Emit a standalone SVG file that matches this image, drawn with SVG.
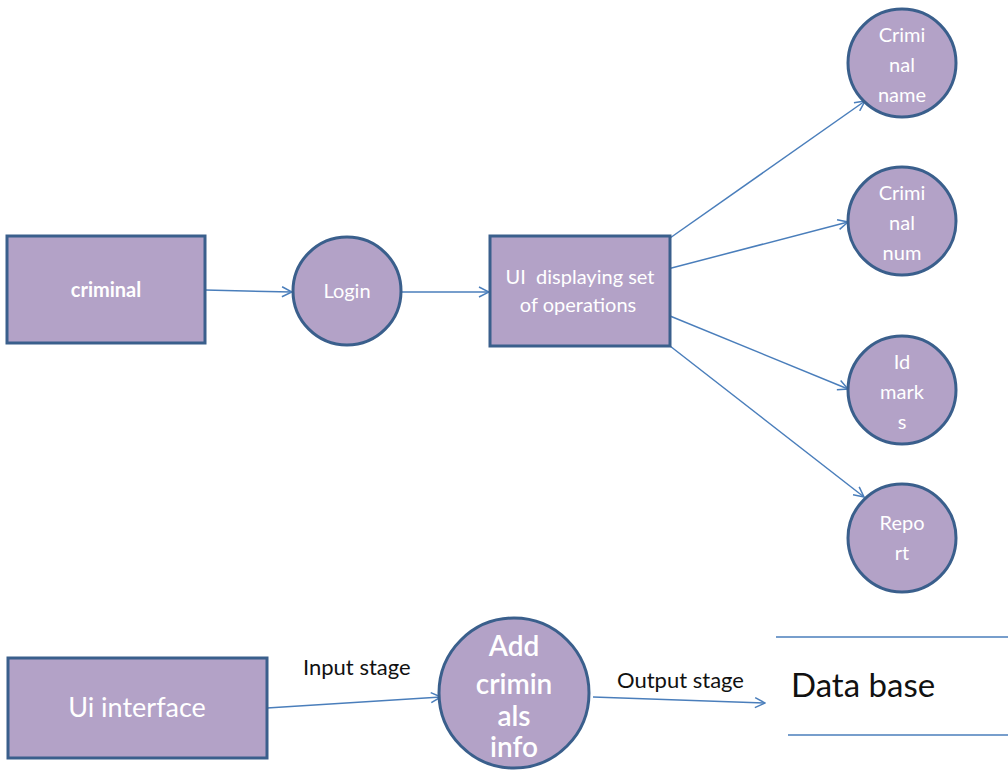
<svg xmlns="http://www.w3.org/2000/svg" width="1008" height="770" viewBox="0 0 1008 770">
<style>
.n{fill:#B3A2C7;stroke:#3A5F8C;stroke-width:3}
.t{font-family:Lato,"Liberation Sans",sans-serif;fill:#fff;text-anchor:middle;font-size:20px}
.big{font-size:27px}
.add{font-size:28px;font-weight:600}
.c{stroke:#4A7EBB;stroke-width:1.5;fill:none;marker-end:url(#a)}
.l{font-family:Lato,"Liberation Sans",sans-serif;fill:#111;font-size:22px}
.db{stroke:#4A7EBB;stroke-width:1.5}
</style>
<defs>
<marker id="a" viewBox="0 0 12 12" refX="11" refY="6" markerWidth="12" markerHeight="12" markerUnits="userSpaceOnUse" orient="auto">
<path d="M1,1 L11,6 L1,11" fill="none" stroke="#4A7EBB" stroke-width="1.5"/>
</marker>
</defs>
<rect width="1008" height="770" fill="#fff"/>
<g id="connectors">
<line class="c" x1="205" y1="290" x2="292" y2="292"/>
<line class="c" x1="402" y1="292" x2="489" y2="292"/>
<line class="c" x1="670" y1="238" x2="865" y2="101"/>
<line class="c" x1="660" y1="271" x2="848" y2="222"/>
<line class="c" x1="670" y1="316" x2="848" y2="389"/>
<line class="c" x1="670" y1="346" x2="864" y2="497"/>
<line class="c" x1="267" y1="708" x2="441" y2="697"/>
<line class="c" x1="593" y1="697" x2="765" y2="703"/>
</g>
<g id="criminal"><rect class="n" x="7" y="236" width="198" height="107"/><text class="t" x="106" y="297" font-weight="bold">criminal</text></g>
<g id="login"><circle class="n" cx="347" cy="291" r="54"/><text class="t" x="347" y="298">Login</text></g>
<g id="ui"><rect class="n" x="490" y="236" width="180" height="110"/><text class="t" x="580" y="284">UI&#160; displaying set</text><text class="t" x="578" y="312">of operations</text></g>
<g id="cname"><circle class="n" cx="902" cy="63" r="54"/><text class="t" x="902" y="42">Crimi</text><text class="t" x="902" y="72">nal</text><text class="t" x="902" y="102">name</text></g>
<g id="cnum"><circle class="n" cx="902" cy="221" r="54"/><text class="t" x="902" y="200">Crimi</text><text class="t" x="902" y="230">nal</text><text class="t" x="902" y="260">num</text></g>
<g id="idmarks"><circle class="n" cx="902" cy="390" r="54"/><text class="t" x="902" y="369">Id</text><text class="t" x="902" y="399">mark</text><text class="t" x="902" y="429">s</text></g>
<g id="report"><circle class="n" cx="902" cy="538" r="54"/><text class="t" x="902" y="530">Repo</text><text class="t" x="902" y="560">rt</text></g>
<g id="uiinterface"><rect class="n" x="8" y="658" width="259" height="100"/><text class="t big" x="137" y="717">Ui interface</text></g>
<g id="addinfo"><circle class="n" cx="514" cy="693" r="75"/><text class="t add" x="514" y="656">Add</text><text class="t add" x="514" y="694">crimin</text><text class="t add" x="514" y="726">als</text><text class="t add" x="514" y="757">info</text></g>
<text class="l" x="303" y="675">Input stage</text>
<text class="l" x="617" y="688">Output stage</text>
<g id="database">
<line class="db" x1="776" y1="637" x2="1008" y2="637"/>
<line class="db" x1="788" y1="735" x2="1008" y2="735"/>
<text x="791" y="697" font-family="Lato,'Liberation Sans',sans-serif" font-size="33" fill="#111">Data base</text>
</g>
</svg>
